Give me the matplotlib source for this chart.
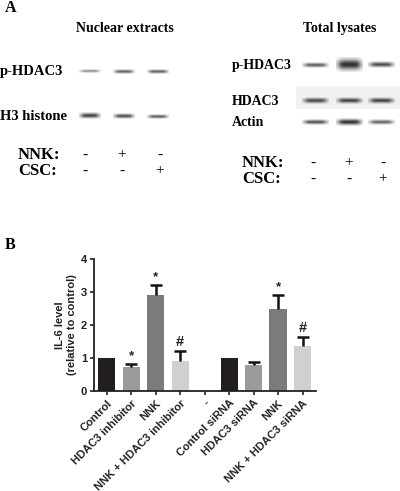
import numpy as np
import matplotlib
matplotlib.use("Agg")
import matplotlib.pyplot as plt

# ---- panel A: western blots (relative band signal per lane) ----
nnk_signs = ["-", "+", "-"]
csc_signs = ["-", "-", "+"]
nuclear_rows = ["p-HDAC3", "H3 histone"]
nuclear_signal = [
    [0.3, 1.0, 1.0],  # p-HDAC3
    [1.4, 1.2, 1.0],  # H3 histone
]
total_rows = ["p-HDAC3", "HDAC3", "Actin"]
total_signal = [
    [1.0, 4.0, 1.3],  # p-HDAC3
    [1.3, 1.4, 1.4],  # HDAC3
    [1.2, 1.7, 0.9],  # Actin
]

# ---- panel B: IL-6 bar chart ----
categories = ["Control", "HDAC3 inhibitor", "NNK", "NNK + HDAC3 inhibitor", "-",
              "Control siRNA", "HDAC3 siRNA", "NNK", "NNK + HDAC3 siRNA"]
values = [1.0, 0.72, 2.92, 0.91, 0.0, 1.0, 0.78, 2.5, 1.35]
errors = [0.0, 0.1, 0.28, 0.3, 0.0, 0.0, 0.1, 0.4, 0.28]
marks = ["", "*", "*", "#", "", "", "", "*", "#"]
bar_colors = ["#221e1f", "#9b9b9b", "#7b7b7b", "#d0d0d0", "#ffffff",
              "#221e1f", "#9b9b9b", "#7b7b7b", "#d0d0d0"]

SERIF = ["Liberation Serif", "DejaVu Serif"]
SANS = ["Liberation Sans", "DejaVu Sans"]


def draw_band(ax, xc, yc, width, signal, base_h=2.0):
    h = base_h * signal + 1.2
    dark = min(0.97, 0.45 + 0.3 * signal)
    nx, ny = 80, 24
    x = np.linspace(-1, 1, nx)
    y = np.linspace(-1, 1, ny)
    px = 1.0 / (1.0 + (np.abs(x) / 0.8) ** 6)
    py = np.exp(-(y * 1.5) ** 2)
    img = np.zeros((ny, nx, 4))
    img[..., :3] = 0.15
    img[..., 3] = dark * np.outer(py, px)
    ax.imshow(img, extent=(xc - width / 2, xc + width / 2, yc + h, yc - h),
              aspect="auto", interpolation="bilinear", zorder=2)


fig = plt.figure(figsize=(4.0, 4.91), dpi=100)

# full-figure axes in pixel coordinates for panel A
axA = fig.add_axes([0, 0, 1, 1])
axA.set_xlim(0, 400)
axA.set_ylim(491, 0)
axA.axis("off")

axA.text(5, 8, "A", family=SERIF, weight="bold", fontsize=11.5, va="center")
axA.text(125, 28, "Nuclear extracts", family=SERIF, weight="bold", fontsize=10, ha="center", va="center")
axA.text(340, 28, "Total lysates", family=SERIF, weight="bold", fontsize=10, ha="center", va="center")

# nuclear extracts blot
lanes_l = [90, 124, 158]
rows_y_l = [71, 116]
for name, sig, yy in zip(nuclear_rows, nuclear_signal, rows_y_l):
    axA.text(0, yy, name, family=SERIF, weight="bold", fontsize=10.5, va="center")
    for xc, s in zip(lanes_l, sig):
        draw_band(axA, xc, yy, 22, s, base_h=1.3)
axA.text(18, 155, "NNK:", family=SERIF, weight="bold", fontsize=12, va="center")
axA.text(18, 171, "CSC:", family=SERIF, weight="bold", fontsize=12, va="center")
for xc, a, b in zip([85, 122, 160], nnk_signs, csc_signs):
    axA.text(xc, 155, a, family=SERIF, fontsize=11, ha="center", va="center")
    axA.text(xc, 171, b, family=SERIF, fontsize=11, ha="center", va="center")

# total lysates blot
lanes_r = [315, 349, 381]
rows_y_r = [65, 101, 122]
axA.add_patch(plt.Rectangle((296, 86), 104, 23, facecolor="#f1f1f1", edgecolor="none", zorder=1))
for name, sig, yy in zip(total_rows, total_signal, rows_y_r):
    axA.text(232, yy, name, family=SERIF, weight="bold", fontsize=10, va="center")
    for xc, s in zip(lanes_r, sig):
        draw_band(axA, xc, yy, 27, s, base_h=1.5)
axA.text(242, 163, "NNK:", family=SERIF, weight="bold", fontsize=12, va="center")
axA.text(242, 179, "CSC:", family=SERIF, weight="bold", fontsize=12, va="center")
for xc, a, b in zip([313, 349, 383], nnk_signs, csc_signs):
    axA.text(xc, 163, a, family=SERIF, fontsize=11, ha="center", va="center")
    axA.text(xc, 179, b, family=SERIF, fontsize=11, ha="center", va="center")

axA.text(5, 245, "B", family=SERIF, weight="bold", fontsize=11.5, va="center")

# panel B bar chart
ax = fig.add_axes([94 / 400, 1 - 391 / 491, (316 - 94) / 400, (391 - 259) / 491])
x = np.arange(len(categories))
vals = np.array(values)
errs = np.array(errors)
ax.bar(x, vals, width=0.7, color=bar_colors, edgecolor="none", zorder=2)
has_err = errs > 0
ax.vlines(x[has_err], vals[has_err], vals[has_err] + errs[has_err], color="#111111", lw=1.8, zorder=3)
ax.plot(x[has_err], vals[has_err] + errs[has_err], ls="none", marker="_", ms=8, mew=1.8,
        color="#111111", zorder=3)
for xi, v, e, m in zip(x, vals, errs, marks):
    if m:
        ax.text(xi, v + e + 0.06, m, ha="center", va="bottom", family=SANS,
                fontsize=9.5 if m == "*" else 10.5, weight="bold", color="#222222")

ax.set_xlim(-0.52, 8.55)
ax.set_ylim(0, 4)
ax.set_yticks([0, 1, 2, 3, 4])
ax.set_xticks(x)
ax.set_xticklabels(categories, rotation=45, ha="right", rotation_mode="anchor")
for lab in ax.get_xticklabels() + ax.get_yticklabels():
    lab.set_family(SANS)
    lab.set_fontsize(8)
    lab.set_weight("bold")
    lab.set_color("#222222")
ax.set_ylabel("IL-6 level\n(relative to control)", family=SANS, fontsize=8, weight="bold",
              color="#222222", labelpad=3)
for side in ("top", "right"):
    ax.spines[side].set_visible(False)
for side in ("left", "bottom"):
    ax.spines[side].set_linewidth(1.3)
    ax.spines[side].set_color("#222222")
ax.tick_params(axis="both", length=3, width=1.2, color="#222222", pad=2)

fig.savefig("out.png", dpi=100)
